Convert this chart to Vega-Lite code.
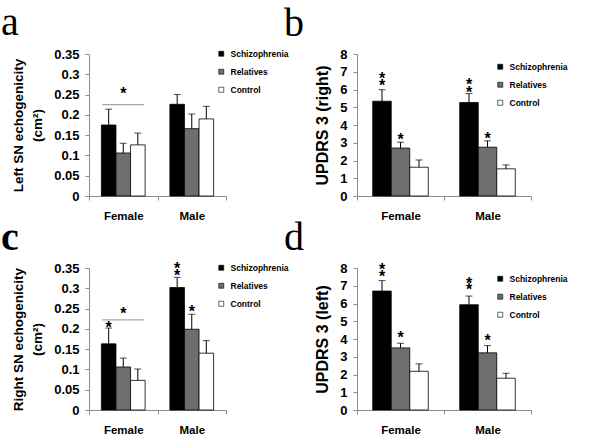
{
  "$schema": "https://vega.github.io/schema/vega-lite/v6.json",
  "autosize": {"type": "none"},
  "padding": {"left": 89, "top": 54, "right": 511, "bottom": 383},
  "background": "white",
  "datasets": {
    "a": [
      {"sex": "Female", "group": "Schizophrenia", "value": 0.175, "upper": 0.214},
      {"sex": "Female", "group": "Relatives", "value": 0.106, "upper": 0.130},
      {"sex": "Female", "group": "Control", "value": 0.126, "upper": 0.155},
      {"sex": "Male", "group": "Schizophrenia", "value": 0.226, "upper": 0.250},
      {"sex": "Male", "group": "Relatives", "value": 0.166, "upper": 0.202},
      {"sex": "Male", "group": "Control", "value": 0.190, "upper": 0.221}
    ],
    "aStars": [
      {"sex": "Female", "group": "Relatives", "y": 0.262}
    ],
    "aSig": [
      {"sex": "Female", "group": "Relatives", "y": 0.225}
    ],
    "b": [
      {"sex": "Female", "group": "Schizophrenia", "value": 5.34, "upper": 5.99},
      {"sex": "Female", "group": "Relatives", "value": 2.70, "upper": 3.03},
      {"sex": "Female", "group": "Control", "value": 1.62, "upper": 2.03},
      {"sex": "Male", "group": "Schizophrenia", "value": 5.27, "upper": 5.77},
      {"sex": "Male", "group": "Relatives", "value": 2.75, "upper": 3.11},
      {"sex": "Male", "group": "Control", "value": 1.53, "upper": 1.75}
    ],
    "bStars": [
      {"sex": "Female", "group": "Schizophrenia", "y": 6.83},
      {"sex": "Female", "group": "Schizophrenia", "y": 6.42},
      {"sex": "Male", "group": "Schizophrenia", "y": 6.46},
      {"sex": "Male", "group": "Schizophrenia", "y": 6.05},
      {"sex": "Female", "group": "Relatives", "y": 3.40},
      {"sex": "Male", "group": "Relatives", "y": 3.44}
    ],
    "c": [
      {"sex": "Female", "group": "Schizophrenia", "value": 0.163, "upper": 0.202},
      {"sex": "Female", "group": "Relatives", "value": 0.106, "upper": 0.128},
      {"sex": "Female", "group": "Control", "value": 0.073, "upper": 0.101},
      {"sex": "Male", "group": "Schizophrenia", "value": 0.302, "upper": 0.327},
      {"sex": "Male", "group": "Relatives", "value": 0.199, "upper": 0.236},
      {"sex": "Male", "group": "Control", "value": 0.140, "upper": 0.171}
    ],
    "cStars": [
      {"sex": "Female", "group": "Relatives", "y": 0.247},
      {"sex": "Female", "group": "Schizophrenia", "y": 0.2125},
      {"sex": "Male", "group": "Schizophrenia", "y": 0.358},
      {"sex": "Male", "group": "Schizophrenia", "y": 0.339},
      {"sex": "Male", "group": "Relatives", "y": 0.251}
    ],
    "cSig": [
      {"sex": "Female", "group": "Relatives", "y": 0.222}
    ],
    "d": [
      {"sex": "Female", "group": "Schizophrenia", "value": 6.70, "upper": 7.29},
      {"sex": "Female", "group": "Relatives", "value": 3.50, "upper": 3.76},
      {"sex": "Female", "group": "Control", "value": 2.18, "upper": 2.60},
      {"sex": "Male", "group": "Schizophrenia", "value": 5.93, "upper": 6.42},
      {"sex": "Male", "group": "Relatives", "value": 3.22, "upper": 3.63},
      {"sex": "Male", "group": "Control", "value": 1.79, "upper": 2.07}
    ],
    "dStars": [
      {"sex": "Female", "group": "Schizophrenia", "y": 8.09},
      {"sex": "Female", "group": "Schizophrenia", "y": 7.72},
      {"sex": "Male", "group": "Schizophrenia", "y": 7.35},
      {"sex": "Male", "group": "Schizophrenia", "y": 6.98},
      {"sex": "Female", "group": "Relatives", "y": 4.28},
      {"sex": "Male", "group": "Relatives", "y": 4.13}
    ]
  },
  "columns": 2,
  "spacing": {"row": 72, "column": 131},
  "bounds": "flush",
  "resolve": {
    "scale": {"fill": "independent", "x": "independent", "y": "independent", "xOffset": "independent"},
    "legend": {"fill": "independent"}
  },
  "concat": [
    {
      "width": 137, "height": 142,
      "title": {"text": "a", "anchor": "start", "frame": "group", "dx": -88, "offset": -27, "baseline": "alphabetic", "font": "Liberation Serif", "fontSize": 40, "fontWeight": "normal", "color": "black"},
      "layer": [
        {
          "data": {"name": "a"},
          "mark": {"type": "bar", "stroke": "black", "strokeWidth": 0.8},
          "encoding": {
            "x": {"field": "sex", "type": "nominal", "scale": {"domain": ["Female", "Male"], "paddingInner": 0, "paddingOuter": 0}, "axis": {"title": null, "labelAngle": 0}},
            "xOffset": {"field": "group", "type": "nominal", "scale": {"domain": ["Schizophrenia", "Relatives", "Control"], "paddingInner": 0, "paddingOuter": 0.85}},
            "y": {"field": "value", "type": "quantitative", "scale": {"domain": [0, 0.35], "nice": false}, "axis": {"tickCount": 7, "tickMinStep": 0.05, "labelOverlap": false, "format": ".2~f", "title": ["Left SN echogenicity", "(cm²)"], "titleFontSize": 13.5, "titleLineHeight": 19}},
            "fill": {"field": "group", "type": "nominal", "scale": {"domain": ["Schizophrenia", "Relatives", "Control"], "range": ["#000000", "#6e6e6e", "#ffffff"]}, "legend": {"legendX": 128, "legendY": -4.5}}
          }
        },
        {
          "data": {"name": "a"},
          "mark": {"type": "rule", "color": "black", "strokeWidth": 1},
          "encoding": {
            "x": {"field": "sex", "type": "nominal"},
            "xOffset": {"field": "group", "type": "nominal"},
            "y": {"field": "value", "type": "quantitative", "axis": {"tickCount": 7, "tickMinStep": 0.05, "labelOverlap": false, "format": ".2~f", "title": ["Left SN echogenicity", "(cm²)"], "titleFontSize": 13.5, "titleLineHeight": 19}},
            "y2": {"field": "upper"}
          }
        },
        {
          "data": {"name": "a"},
          "mark": {"type": "tick", "color": "black", "size": 7, "thickness": 1},
          "encoding": {
            "x": {"field": "sex", "type": "nominal"},
            "xOffset": {"field": "group", "type": "nominal"},
            "y": {"field": "upper", "type": "quantitative", "axis": {"tickCount": 7, "tickMinStep": 0.05, "labelOverlap": false, "format": ".2~f", "title": ["Left SN echogenicity", "(cm²)"], "titleFontSize": 13.5, "titleLineHeight": 19}}
          }
        },
        {
          "data": {"name": "aSig"},
          "mark": {"type": "tick", "color": "#808080", "size": 42, "thickness": 1.2},
          "encoding": {
            "x": {"field": "sex", "type": "nominal"},
            "xOffset": {"field": "group", "type": "nominal"},
            "y": {"field": "y", "type": "quantitative", "axis": {"tickCount": 7, "tickMinStep": 0.05, "labelOverlap": false, "format": ".2~f", "title": ["Left SN echogenicity", "(cm²)"], "titleFontSize": 13.5, "titleLineHeight": 19}}
          }
        },
        {
          "data": {"name": "aStars"},
          "mark": {"type": "text", "text": "*", "font": "Liberation Sans", "fontSize": 16, "fontWeight": "bold", "baseline": "alphabetic", "dy": 9, "color": "black"},
          "encoding": {
            "x": {"field": "sex", "type": "nominal"},
            "xOffset": {"field": "group", "type": "nominal"},
            "y": {"field": "y", "type": "quantitative", "axis": {"tickCount": 7, "tickMinStep": 0.05, "labelOverlap": false, "format": ".2~f", "title": ["Left SN echogenicity", "(cm²)"], "titleFontSize": 13.5, "titleLineHeight": 19}}
          }
        }
      ]
    },
    {
      "width": 174, "height": 142,
      "title": {"text": "b", "anchor": "start", "frame": "group", "dx": -73, "offset": -28, "baseline": "alphabetic", "font": "Liberation Serif", "fontSize": 40, "fontWeight": "normal", "color": "black"},
      "layer": [
        {
          "data": {"name": "b"},
          "mark": {"type": "bar", "stroke": "black", "strokeWidth": 0.8},
          "encoding": {
            "x": {"field": "sex", "type": "nominal", "scale": {"domain": ["Female", "Male"], "paddingInner": 0, "paddingOuter": 0}, "axis": {"title": null, "labelAngle": 0}},
            "xOffset": {"field": "group", "type": "nominal", "scale": {"domain": ["Schizophrenia", "Relatives", "Control"], "paddingInner": 0, "paddingOuter": 0.85}},
            "y": {"field": "value", "type": "quantitative", "scale": {"domain": [0, 8], "nice": false}, "axis": {"tickCount": 8, "tickMinStep": 1, "labelOverlap": false, "title": "UPDRS 3 (right)", "titleFontSize": 16}},
            "fill": {"field": "group", "type": "nominal", "scale": {"domain": ["Schizophrenia", "Relatives", "Control"], "range": ["#000000", "#6e6e6e", "#ffffff"]}, "legend": {"legendX": 139, "legendY": 8.5}}
          }
        },
        {
          "data": {"name": "b"},
          "mark": {"type": "rule", "color": "black", "strokeWidth": 1},
          "encoding": {
            "x": {"field": "sex", "type": "nominal"},
            "xOffset": {"field": "group", "type": "nominal"},
            "y": {"field": "value", "type": "quantitative", "axis": {"tickCount": 8, "tickMinStep": 1, "labelOverlap": false, "title": "UPDRS 3 (right)", "titleFontSize": 16}},
            "y2": {"field": "upper"}
          }
        },
        {
          "data": {"name": "b"},
          "mark": {"type": "tick", "color": "black", "size": 7, "thickness": 1},
          "encoding": {
            "x": {"field": "sex", "type": "nominal"},
            "xOffset": {"field": "group", "type": "nominal"},
            "y": {"field": "upper", "type": "quantitative", "axis": {"tickCount": 8, "tickMinStep": 1, "labelOverlap": false, "title": "UPDRS 3 (right)", "titleFontSize": 16}}
          }
        },
        {
          "data": {"name": "bStars"},
          "mark": {"type": "text", "text": "*", "font": "Liberation Sans", "fontSize": 16, "fontWeight": "bold", "baseline": "alphabetic", "dy": 9, "color": "black"},
          "encoding": {
            "x": {"field": "sex", "type": "nominal"},
            "xOffset": {"field": "group", "type": "nominal"},
            "y": {"field": "y", "type": "quantitative", "axis": {"tickCount": 8, "tickMinStep": 1, "labelOverlap": false, "title": "UPDRS 3 (right)", "titleFontSize": 16}}
          }
        }
      ]
    },
    {
      "width": 137, "height": 142,
      "title": {"text": "c", "anchor": "start", "frame": "group", "dx": -88, "offset": -29, "baseline": "alphabetic", "font": "Liberation Serif", "fontSize": 40, "fontWeight": "bold", "color": "black"},
      "layer": [
        {
          "data": {"name": "c"},
          "mark": {"type": "bar", "stroke": "black", "strokeWidth": 0.8},
          "encoding": {
            "x": {"field": "sex", "type": "nominal", "scale": {"domain": ["Female", "Male"], "paddingInner": 0, "paddingOuter": 0}, "axis": {"title": null, "labelAngle": 0}},
            "xOffset": {"field": "group", "type": "nominal", "scale": {"domain": ["Schizophrenia", "Relatives", "Control"], "paddingInner": 0, "paddingOuter": 0.85}},
            "y": {"field": "value", "type": "quantitative", "scale": {"domain": [0, 0.35], "nice": false}, "axis": {"tickCount": 7, "tickMinStep": 0.05, "labelOverlap": false, "format": ".2~f", "title": ["Right SN echogenicity", "(cm²)"], "titleFontSize": 13.5, "titleLineHeight": 19}},
            "fill": {"field": "group", "type": "nominal", "scale": {"domain": ["Schizophrenia", "Relatives", "Control"], "range": ["#000000", "#6e6e6e", "#ffffff"]}, "legend": {"legendX": 128, "legendY": -4.5}}
          }
        },
        {
          "data": {"name": "c"},
          "mark": {"type": "rule", "color": "black", "strokeWidth": 1},
          "encoding": {
            "x": {"field": "sex", "type": "nominal"},
            "xOffset": {"field": "group", "type": "nominal"},
            "y": {"field": "value", "type": "quantitative", "axis": {"tickCount": 7, "tickMinStep": 0.05, "labelOverlap": false, "format": ".2~f", "title": ["Right SN echogenicity", "(cm²)"], "titleFontSize": 13.5, "titleLineHeight": 19}},
            "y2": {"field": "upper"}
          }
        },
        {
          "data": {"name": "c"},
          "mark": {"type": "tick", "color": "black", "size": 7, "thickness": 1},
          "encoding": {
            "x": {"field": "sex", "type": "nominal"},
            "xOffset": {"field": "group", "type": "nominal"},
            "y": {"field": "upper", "type": "quantitative", "axis": {"tickCount": 7, "tickMinStep": 0.05, "labelOverlap": false, "format": ".2~f", "title": ["Right SN echogenicity", "(cm²)"], "titleFontSize": 13.5, "titleLineHeight": 19}}
          }
        },
        {
          "data": {"name": "cSig"},
          "mark": {"type": "tick", "color": "#808080", "size": 42, "thickness": 1.2},
          "encoding": {
            "x": {"field": "sex", "type": "nominal"},
            "xOffset": {"field": "group", "type": "nominal"},
            "y": {"field": "y", "type": "quantitative", "axis": {"tickCount": 7, "tickMinStep": 0.05, "labelOverlap": false, "format": ".2~f", "title": ["Right SN echogenicity", "(cm²)"], "titleFontSize": 13.5, "titleLineHeight": 19}}
          }
        },
        {
          "data": {"name": "cStars"},
          "mark": {"type": "text", "text": "*", "font": "Liberation Sans", "fontSize": 16, "fontWeight": "bold", "baseline": "alphabetic", "dy": 9, "color": "black"},
          "encoding": {
            "x": {"field": "sex", "type": "nominal"},
            "xOffset": {"field": "group", "type": "nominal"},
            "y": {"field": "y", "type": "quantitative", "axis": {"tickCount": 7, "tickMinStep": 0.05, "labelOverlap": false, "format": ".2~f", "title": ["Right SN echogenicity", "(cm²)"], "titleFontSize": 13.5, "titleLineHeight": 19}}
          }
        }
      ]
    },
    {
      "width": 174, "height": 142,
      "title": {"text": "d", "anchor": "start", "frame": "group", "dx": -73, "offset": -28, "baseline": "alphabetic", "font": "Liberation Serif", "fontSize": 40, "fontWeight": "normal", "color": "black"},
      "layer": [
        {
          "data": {"name": "d"},
          "mark": {"type": "bar", "stroke": "black", "strokeWidth": 0.8},
          "encoding": {
            "x": {"field": "sex", "type": "nominal", "scale": {"domain": ["Female", "Male"], "paddingInner": 0, "paddingOuter": 0}, "axis": {"title": null, "labelAngle": 0}},
            "xOffset": {"field": "group", "type": "nominal", "scale": {"domain": ["Schizophrenia", "Relatives", "Control"], "paddingInner": 0, "paddingOuter": 0.85}},
            "y": {"field": "value", "type": "quantitative", "scale": {"domain": [0, 8], "nice": false}, "axis": {"tickCount": 8, "tickMinStep": 1, "labelOverlap": false, "title": "UPDRS 3 (left)", "titleFontSize": 16}},
            "fill": {"field": "group", "type": "nominal", "scale": {"domain": ["Schizophrenia", "Relatives", "Control"], "range": ["#000000", "#6e6e6e", "#ffffff"]}, "legend": {"legendX": 139, "legendY": 6.5}}
          }
        },
        {
          "data": {"name": "d"},
          "mark": {"type": "rule", "color": "black", "strokeWidth": 1},
          "encoding": {
            "x": {"field": "sex", "type": "nominal"},
            "xOffset": {"field": "group", "type": "nominal"},
            "y": {"field": "value", "type": "quantitative", "axis": {"tickCount": 8, "tickMinStep": 1, "labelOverlap": false, "title": "UPDRS 3 (left)", "titleFontSize": 16}},
            "y2": {"field": "upper"}
          }
        },
        {
          "data": {"name": "d"},
          "mark": {"type": "tick", "color": "black", "size": 7, "thickness": 1},
          "encoding": {
            "x": {"field": "sex", "type": "nominal"},
            "xOffset": {"field": "group", "type": "nominal"},
            "y": {"field": "upper", "type": "quantitative", "axis": {"tickCount": 8, "tickMinStep": 1, "labelOverlap": false, "title": "UPDRS 3 (left)", "titleFontSize": 16}}
          }
        },
        {
          "data": {"name": "dStars"},
          "mark": {"type": "text", "text": "*", "font": "Liberation Sans", "fontSize": 16, "fontWeight": "bold", "baseline": "alphabetic", "dy": 9, "color": "black"},
          "encoding": {
            "x": {"field": "sex", "type": "nominal"},
            "xOffset": {"field": "group", "type": "nominal"},
            "y": {"field": "y", "type": "quantitative", "axis": {"tickCount": 8, "tickMinStep": 1, "labelOverlap": false, "title": "UPDRS 3 (left)", "titleFontSize": 16}}
          }
        }
      ]
    }
  ],
  "config": {
    "view": {"stroke": null},
    "font": "Liberation Sans",
    "axis": {
      "grid": false,
      "labelFont": "Liberation Sans",
      "labelFontWeight": "bold",
      "labelColor": "black",
      "labelOverlap": false,
      "titleFont": "Liberation Sans",
      "titleFontWeight": "bold",
      "titleColor": "black",
      "domainColor": "#8c8c8c",
      "tickColor": "#8c8c8c",
      "tickSize": 4
    },
    "axisX": {"labelFontSize": 11.5, "labelPadding": 10, "tickBand": "extent"},
    "axisY": {"labelFontSize": 13, "labelPadding": 6, "titlePadding": 9},
    "legend": {
      "orient": "none",
      "title": null,
      "symbolType": "square",
      "symbolSize": 25,
      "symbolStrokeColor": "black",
      "symbolStrokeWidth": 0.6,
      "labelFont": "Liberation Sans",
      "labelFontWeight": "bold",
      "labelFontSize": 8.5,
      "labelColor": "black",
      "labelOffset": 5,
      "rowPadding": 9,
      "padding": 0
    }
  }
}
